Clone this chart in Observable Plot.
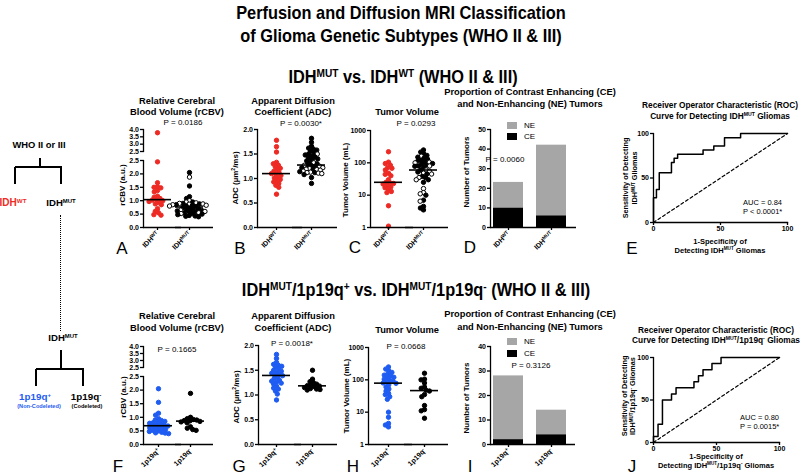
<!DOCTYPE html>
<html>
<head>
<meta charset="utf-8">
<script src="https://cdn.jsdelivr.net/npm/d3@7"></script>
<script src="https://cdn.jsdelivr.net/npm/@observablehq/plot@0.6"></script>
<style>
html,body{margin:0;padding:0;background:#fff;}
#root{position:relative;width:800px;height:476px;overflow:hidden;font-family:"Liberation Sans",Arial,Helvetica,sans-serif;color:#000;}
.t{position:absolute;white-space:nowrap;line-height:1;}
.t sup{font-size:0.62em;vertical-align:0;position:relative;top:-0.55em;line-height:0;}
.ln{position:absolute;background:#000;}
svg{overflow:visible;}
</style>
</head>
<body>
<div id="root"></div>
<script>
// ---------------- DATA ----------------
const topGroups = ["IDH^WT", "IDH^MUT"];
const botGroups = ["1p19q^+", "1p19q^-"];

// rCBV (a.u.)
const rcbvWT = [3.78, 2.45, 1.67, 1.52, 1.50, 1.48, 1.38, 1.33, 1.17, 1.13, 1.08, 1.04, 1.02, 1.00, 0.97, 0.93, 0.88, 0.85, 0.70, 0.60, 0.55, 0.48, 0.46];
const rcbvNonCodel = [2.05, 1.55, 1.15, 1.08, 0.95, 0.90, 0.88, 0.85, 0.82, 0.80, 0.78, 0.75, 0.72, 0.70, 0.68, 0.66, 0.64, 0.62, 0.60, 0.58, 0.55, 0.52, 0.50, 0.48, 0.45, 0.43, 0.42, 0.40];
const rcbvCodel = [1.88, 1.00, 0.95, 0.92, 0.90, 0.88, 0.87, 0.85, 0.83, 0.80, 0.65, 0.60, 0.55, 0.52];
// ADC (um2/ms)
const adcWT = [1.78, 1.65, 1.54, 1.33, 1.30, 1.27, 1.24, 1.21, 1.18, 1.15, 1.12, 1.10, 1.09, 1.06, 1.03, 1.01, 0.98, 0.96, 0.93, 0.90, 0.86, 0.82, 0.68];
const adcNonCodel = [1.82, 1.74, 1.66, 1.62, 1.60, 1.58, 1.56, 1.53, 1.50, 1.48, 1.46, 1.44, 1.42, 1.40, 1.39, 1.36, 1.33, 1.30, 1.28, 1.26, 1.24, 1.22, 1.18, 1.14, 1.12, 1.08, 1.02, 0.90];
const adcCodel = [1.50, 1.32, 1.27, 1.25, 1.22, 1.20, 1.19, 1.18, 1.17, 1.15, 1.13, 1.12, 1.11, 1.10];
// Tumor volume (mL)
const volWT = [220, 105, 95, 85, 72, 68, 60, 48, 44, 40, 30, 25, 24, 23, 22, 20, 18, 17, 15, 13, 12, 4.7, 1.1];
const volNonCodel = [250, 215, 190, 170, 150, 140, 130, 120, 115, 105, 95, 90, 85, 80, 78, 70, 60, 52, 45, 38, 35, 30, 25, 10, 7, 4.5, 4.0, 3.5];
const volCodel = [160, 105, 100, 80, 60, 55, 48, 45, 35, 30, 16, 12, 11, 6.5];
// Contrast enhancement counts
const catNames = ["NE", "CE"];
const ceTop = [10, 6];
const neTop = [13, 36];
const ceBot = [2, 4];
const neBot = [26, 10];
// ROC curves (%)
const fprE = [0, 0, 2.2, 4.3, 13.4, 15.4, 18, 37, 45, 53, 65, 100];
const tprE = [0, 27.9, 37.2, 55.8, 67.4, 72.1, 76.7, 81.4, 86, 95.3, 100, 100];
const fprJ = [0, 0, 3.6, 7.1, 14.3, 17.9, 32.1, 35.7, 39.3, 46.4, 53.6, 100];
const tprJ = [0, 7.1, 21.4, 50, 57.1, 64.3, 71.4, 78.6, 85.7, 92.9, 100, 100];
const diag = [0, 100];
// ticks
const rcbvLowTicks = [0, 0.5, 1, 1.5, 2, 2.5];
const rcbvHighTicks = [2.5, 3, 3.5, 4];
const adcTicks = [0, 0.5, 1, 1.5, 2];
const volTicks = [1, 10, 100, 1000];
const barTicksTop = [0, 10, 20, 30, 40, 50];
const barTicksBot = [0, 10, 20, 30, 40];
const rocTicks = [0, 50, 100];
// statistics text
const pTop = ["P = 0.0186", "P = 0.0030*", "P = 0.0293", "P = 0.0060"];
const pBot = ["P = 0.1665", "P = 0.0018*", "P = 0.0668", "P = 0.3126"];
const aucE = ["AUC = 0.84", "P < 0.0001*"];
const aucJ = ["AUC = 0.80", "P = 0.0015*"];

// ---------------- STYLE ----------------
const RED = "#ee2a24", BLUE = "#1f5cf2", GRAY = "#a6a6a6";
const catColors = [GRAY, "#000"];
const FONT = '"Liberation Sans", Arial, Helvetica, sans-serif';
const STYLE = {fontFamily: FONT, fontSize: "7px", fontWeight: "bold", background: "transparent", overflow: "visible", color: "#000"};
const topFill = {wt: RED, non: "#000", codel: "#fff"};
const topStroke = {wt: RED, non: "#000", codel: "#000"};
const botFill = {non: BLUE, codel: "#000"};
const botStroke = {non: BLUE, codel: "#000"};

const root = document.getElementById("root");
function put(node, left, top) {
  node.style.position = "absolute";
  node.style.left = left + "px";
  node.style.top = top + "px";
  root.appendChild(node);
  return node;
}
function txt(html, x, y, o = {}) {
  const d = document.createElement("div");
  d.className = "t";
  d.innerHTML = html;
  d.style.fontSize = (o.size || 9) + "px";
  d.style.fontWeight = o.weight || "bold";
  d.style.color = o.color || "#000";
  const tx = o.anchor === "start" ? "0" : "-50%";
  let tr = `translate(${tx},-50%)`;
  if (o.rotate) tr += ` rotate(${o.rotate}deg)`;
  if (o.scaleX) tr += ` scaleX(${o.scaleX})`;
  d.style.transform = tr;
  if (o.anchor === "start") d.style.transformOrigin = "0 50%";
  put(d, x, y);
  return d;
}
function supify(svg) {
  const NS = "http://www.w3.org/2000/svg";
  svg.querySelectorAll("text").forEach(t => {
    const s = t.textContent;
    if (!s.includes("^")) return;
    const [base, sup] = s.split("^");
    while (t.firstChild) t.removeChild(t.firstChild);
    const a = document.createElementNS(NS, "tspan"); a.textContent = base; t.appendChild(a);
    const b = document.createElementNS(NS, "tspan"); b.textContent = sup;
    b.setAttribute("font-size", "70%"); b.setAttribute("dy", "-0.45em"); t.appendChild(b);
  });
}
function buildRows(groups, a, b, c) {
  const r = [];
  a.forEach(v => r.push({g: groups[0], v, k: "wt"}));
  b.forEach(v => r.push({g: groups[groups.length - 1], v, k: "non"}));
  c.forEach(v => r.push({g: groups[groups.length - 1], v, k: "codel"}));
  return r.sort((p, q) => q.v - p.v);
}
function buildBotRows(groups, a, b) {
  const r = [];
  a.forEach(v => r.push({g: groups[0], v, k: "non"}));
  b.forEach(v => r.push({g: groups[1], v, k: "codel"}));
  return r.sort((p, q) => q.v - p.v);
}

// ---------------- SCATTER (faceted beeswarm) ----------------
function scatter(o) {
  const ML = 30, MT = 4, MB = o.xAxis ? 44 : 2, EXTRA = 8;
  const step = o.step;
  const pi = Math.max(0, 1 - 2 * o.c0 / step);
  const bw = step * (1 - pi);
  const shift = o.c0 - bw / 2;
  const span = step + bw;
  const ext = o.W - span;
  const width = ML + o.W + EXTRA;
  const fillMap = o.fill, strokeMap = o.stroke;
  const marks = [
    Plot.frame({anchor: "left", facetAnchor: "left", strokeWidth: 1.3}),
    Plot.axisY({ticks: o.ticks, tickFormat: o.fmt, tickSize: 3, tickPadding: 1.5, strokeWidth: 1.3, label: null}),
    Plot.dot(o.rows, Plot.dodgeX({anchor: "middle", padding: -0.9}, {
      fx: "g", y: "v", r: 2.2, dx: shift, filter: o.filter,
      fill: d => fillMap[d.k], stroke: d => strokeMap[d.k], strokeWidth: 1
    }))
  ];
  if (o.xAxis) marks.push(
    Plot.ruleY([o.domain[0]], {insetRight: -ext, strokeWidth: 1.3}),
    Plot.tickY(o.rows, Plot.groupZ({y: "median"}, {fx: "g", y: "v", dx: shift, insetLeft: (bw - 28) / 2, insetRight: (bw - 28) / 2, strokeWidth: 1.6})),
    Plot.axisFx({anchor: "bottom", tickSize: 3, tickPadding: 2, tickRotate: -45, dx: shift, label: null, strokeWidth: 1.3})
  );
  const svg = Plot.plot({
    width, height: MT + o.H + MB,
    marginLeft: ML, marginRight: width - ML - span, marginTop: MT, marginBottom: MB,
    fx: {domain: o.groups, paddingInner: pi, paddingOuter: 0, round: false, axis: null, label: null},
    y: {type: o.type || "linear", domain: o.domain, axis: null, label: null},
    color: {type: "identity"},
    style: STYLE,
    marks
  });
  supify(svg);
  return put(svg, o.x0 - ML, o.y0 - MT);
}

// ---------------- STACKED BARS ----------------
function bars(o) {
  const ML = 30, MT = 4, MB = 44, MR = 8;
  const data = [];
  o.groups.forEach((g, i) => {
    data.push({g, type: catNames[1], n: o.ce[i]});
    data.push({g, type: catNames[0], n: o.ne[i]});
  });
  const svg = Plot.plot({
    width: ML + o.W + MR, height: MT + o.H + MB,
    marginLeft: ML, marginRight: MR, marginTop: MT, marginBottom: MB,
    x: {domain: o.groups, paddingInner: 0.3, paddingOuter: 0.13, align: 0.26, axis: null, label: null},
    y: {domain: [0, o.max], axis: null, label: null},
    color: {domain: catNames, range: catColors},
    style: STYLE,
    marks: [
      Plot.barY(data, {x: "g", y: "n", fill: "type"}),
      Plot.frame({anchor: "left", strokeWidth: 1.3}),
      Plot.ruleY([0], {strokeWidth: 1.3}),
      Plot.axisY({ticks: o.ticks, tickSize: 3, tickPadding: 1.5, label: null, strokeWidth: 1.3}),
      Plot.axisX({tickSize: 3, tickPadding: 2, tickRotate: -45, label: null, strokeWidth: 1.3})
    ]
  });
  supify(svg);
  return put(svg, o.x0 - ML, o.y0 - MT);
}
function legend(x, y, gap) {
  catNames.forEach((name, i) => {
    const b = document.createElement("div");
    b.style.width = "10px"; b.style.height = "7px"; b.style.background = catColors[i];
    put(b, x, y + i * gap);
    txt(name, x + 17, y + i * gap + 3.5, {size: 8, weight: "normal", anchor: "start"});
  });
}

// ---------------- ROC ----------------
function rocPlot(o) {
  const ML = 22, MT = 4, MB = 16, MR = 8;
  const idx = d3.range(o.fpr.length);
  const svg = Plot.plot({
    width: ML + o.W + MR, height: MT + o.H + MB,
    marginLeft: ML, marginRight: MR, marginTop: MT, marginBottom: MB,
    x: {domain: [0, 100], axis: null, label: null},
    y: {domain: [0, 100], axis: null, label: null},
    style: STYLE,
    marks: [
      Plot.line(diag, {x: d => d, y: d => d, strokeDasharray: "3,2.5", strokeWidth: 1.2}),
      Plot.line(idx, {x: i => o.fpr[i], y: i => o.tpr[i], curve: "step-after", strokeWidth: 1.5}),
      Plot.frame({anchor: "left", strokeWidth: 1.3}),
      Plot.frame({anchor: "bottom", strokeWidth: 1.3}),
      Plot.axisX({ticks: rocTicks, tickSize: 3, tickPadding: 1, label: null, strokeWidth: 1.3}),
      Plot.axisY({ticks: rocTicks, tickSize: 3, tickPadding: 1.5, label: null, strokeWidth: 1.3})
    ]
  });
  return put(svg, o.x0 - ML, o.y0 - MT);
}

// ---------------- BUILD ----------------
const f1 = d3.format(".1f");
const topR = buildRows(topGroups, rcbvWT, rcbvNonCodel, rcbvCodel);
const topA = buildRows(topGroups, adcWT, adcNonCodel, adcCodel);
const topV = buildRows(topGroups, volWT, volNonCodel, volCodel);
const botR = buildBotRows(botGroups, rcbvNonCodel, rcbvCodel);
const botA = buildBotRows(botGroups, adcNonCodel, adcCodel);
const botV = buildBotRows(botGroups, volNonCodel, volCodel);

// Row 1
scatter({rows: topR, groups: topGroups, fill: topFill, stroke: topStroke, x0: 143, W: 70, c0: 14, step: 32, y0: 129, H: 22,
  domain: [2.5, 4], ticks: rcbvHighTicks, fmt: f1, filter: d => d.v > 2.5, xAxis: false});
scatter({rows: topR, groups: topGroups, fill: topFill, stroke: topStroke, x0: 143, W: 70, c0: 14, step: 32, y0: 160, H: 67,
  domain: [0, 2.5], ticks: rcbvLowTicks, fmt: f1, filter: d => d.v <= 2.5, xAxis: true});
scatter({rows: topA, groups: topGroups, fill: topFill, stroke: topStroke, x0: 257, W: 80, c0: 19, step: 35, y0: 129, H: 98,
  domain: [0, 2], ticks: adcTicks, fmt: f1, xAxis: true});
scatter({rows: topV, groups: topGroups, fill: topFill, stroke: topStroke, x0: 370, W: 78, c0: 18, step: 35, y0: 130, H: 97,
  type: "log", domain: [1, 1000], ticks: volTicks, fmt: d => String(d), xAxis: true});
bars({groups: topGroups, ce: ceTop, ne: neTop, x0: 490, W: 86, y0: 129, H: 98, max: 50, ticks: barTicksTop});
rocPlot({fpr: fprE, tpr: tprE, x0: 653, W: 134, y0: 133, H: 89});

// Row 2
scatter({rows: botR, groups: botGroups, fill: botFill, stroke: botStroke, x0: 143, W: 70, c0: 15, step: 32, y0: 346, H: 21,
  domain: [2.5, 4], ticks: rcbvHighTicks, fmt: f1, filter: d => d.v > 2.5, xAxis: false});
scatter({rows: botR, groups: botGroups, fill: botFill, stroke: botStroke, x0: 143, W: 70, c0: 15, step: 32, y0: 376, H: 68,
  domain: [0, 2.5], ticks: rcbvLowTicks, fmt: f1, filter: d => d.v <= 2.5, xAxis: true});
scatter({rows: botA, groups: botGroups, fill: botFill, stroke: botStroke, x0: 258, W: 79, c0: 18, step: 36, y0: 345, H: 99,
  domain: [0, 2], ticks: adcTicks, fmt: f1, xAxis: true});
scatter({rows: botV, groups: botGroups, fill: botFill, stroke: botStroke, x0: 368, W: 80, c0: 20, step: 36, y0: 347, H: 97,
  type: "log", domain: [1, 1000], ticks: volTicks, fmt: d => String(d), xAxis: true});
bars({groups: botGroups, ce: ceBot, ne: neBot, x0: 490, W: 85, y0: 346, H: 98, max: 40, ticks: barTicksBot});
rocPlot({fpr: fprJ, tpr: tprJ, x0: 653, W: 126, y0: 357, H: 85});

// ---------------- TEXT ----------------
const HS = {size: 19, scaleX: 0.86};
txt("Perfusion and Diffusion MRI Classification", 401, 12, HS);
txt("of Glioma Genetic Subtypes (WHO II &amp; III)", 401, 35, HS);
txt("IDH<sup>MUT</sup> vs. IDH<sup>WT</sup> (WHO II &amp; III)", 403, 76, HS);
txt("IDH<sup>MUT</sup>/1p19q<sup>+</sup> vs. IDH<sup>MUT</sup>/1p19q<sup>-</sup> (WHO II &amp; III)", 416, 289, HS);

const PT = {size: 9.3};
txt("Relative Cerebral", 177, 102, PT); txt("Blood Volume (rCBV)", 177, 112.5, PT);
txt("Apparent Diffusion", 293, 102, PT); txt("Coefficient (ADC)", 293, 112.5, PT);
txt("Tumor Volume", 407, 113, PT);
txt("Proportion of Contrast Enhancing (CE)", 530, 93, PT); txt("and Non-Enhancing (NE) Tumors", 530, 104.5, PT);
txt("Receiver Operator Characteristic (ROC)", 720, 105, {size: 8.3}); txt("Curve for Detecting IDH<sup>MUT</sup> Gliomas", 720, 115.5, {size: 8.3});
txt("Relative Cerebral", 177, 316.5, PT); txt("Blood Volume (rCBV)", 177, 329, PT);
txt("Apparent Diffusion", 293, 316.5, PT); txt("Coefficient (ADC)", 293, 329, PT);
txt("Tumor Volume", 407, 331, PT);
txt("Proportion of Contrast Enhancing (CE)", 530, 315, PT); txt("and Non-Enhancing (NE) Tumors", 530, 327.5, PT);
txt("Receiver Operator Characteristic (ROC)", 716, 330, {size: 8.3}); txt("Curve for Detecting IDH<sup>MUT</sup>/1p19q<sup>-</sup> Gliomas", 716, 340, {size: 8.3});

const PV = {size: 8, weight: "normal"};
[[183, 123], [301, 124], [416, 124], [505, 160]].forEach(([x, y], i) => txt(pTop[i], x, y, PV));
[[177, 350], [292, 344], [406, 347], [531, 366]].forEach(([x, y], i) => txt(pBot[i], x, y, PV));
txt(aucE[0], 743, 203, {size: 7.5, weight: "normal", anchor: "start"}); txt(aucE[1], 743, 211.5, {size: 7.5, weight: "normal", anchor: "start"});
txt(aucJ[0], 740, 418, {size: 7.5, weight: "normal", anchor: "start"}); txt(aucJ[1], 740, 426.5, {size: 7.5, weight: "normal", anchor: "start"});

const YL = {size: 8, rotate: -90};
txt("rCBV (a.u.)", 123, 185, YL); txt("rCBV (a.u.)", 124, 397, YL);
txt("ADC (µm<sup>2</sup>/ms)", 236, 178, YL); txt("ADC (µm<sup>2</sup>/ms)", 237, 397, YL);
txt("Tumor Volume (mL)", 346, 180, YL); txt("Tumor Volume (mL)", 347, 396, YL);
txt("Number of Tumors", 467, 172, YL); txt("Number of Tumors", 467, 398, YL);
const RL = {size: 7.3, rotate: -90};
txt("Sensitivity of Detecting", 626, 178, RL); txt("IDH<sup>MUT</sup> Gliomas", 635, 178, RL);
txt("Sensitivity of Detecting", 625, 396, RL); txt("IDH<sup>MUT</sup>/1p19q<sup>-</sup> Gliomas", 633, 396, RL);
const XL = {size: 7.5};
txt("1-Specificity of", 720, 242, XL); txt("Detecting IDH<sup>MUT</sup> Gliomas", 720, 251, XL);
txt("1-Specificity of", 716, 456.5, XL); txt("Detecting IDH<sup>MUT</sup>/1p19q<sup>-</sup> Gliomas", 716, 466, XL);

legend(507, 122, 11);
legend(507, 338, 12);

const LT = {size: 17, weight: "normal"};
[["A", 122, 248], ["B", 240, 248], ["C", 355, 247], ["D", 470, 247], ["E", 632, 248],
 ["F", 118, 466], ["G", 239, 466], ["H", 353, 466], ["I", 470, 466], ["J", 632, 466]].forEach(([s, x, y]) => txt(s, x, y, LT));

// ---------------- TREE ----------------
function hl(x1, x2, y) { const d = document.createElement("div"); d.className = "ln"; d.style.width = (x2 - x1) + "px"; d.style.height = "1.6px"; put(d, x1, y - 0.8); }
function vl(x, y1, y2, dotted) {
  const d = document.createElement("div"); d.className = "ln";
  d.style.width = "1.6px"; d.style.height = (y2 - y1) + "px";
  if (dotted) { d.style.background = "none"; d.style.borderLeft = "1.6px dotted #000"; d.style.width = "0"; }
  put(d, x - 0.8, y1);
}
txt("WHO II or III", 39, 145, {size: 9.4});
vl(40, 158, 167); hl(15, 62, 167); vl(15, 167, 184); vl(61, 167, 184);
txt("IDH<sup>WT</sup>", 13, 203, {size: 10, color: RED});
txt("IDH<sup>MUT</sup>", 61, 203, {size: 9.6});
vl(61, 215, 331, true);
txt("IDH<sup>MUT</sup>", 63, 338, {size: 9.6});
vl(61, 350, 369); hl(36, 84, 369); vl(36, 369, 386); vl(83, 369, 386);
txt("1p19q<sup>+</sup>", 35, 397, {size: 9.8, color: BLUE});
txt("(Non-Codeleted)", 39, 407, {size: 5.6, color: BLUE});
txt("1p19q<sup>-</sup>", 86, 397, {size: 9.8});
txt("(Codeleted)", 87, 407, {size: 5.6});
</script>
</body>
</html>
